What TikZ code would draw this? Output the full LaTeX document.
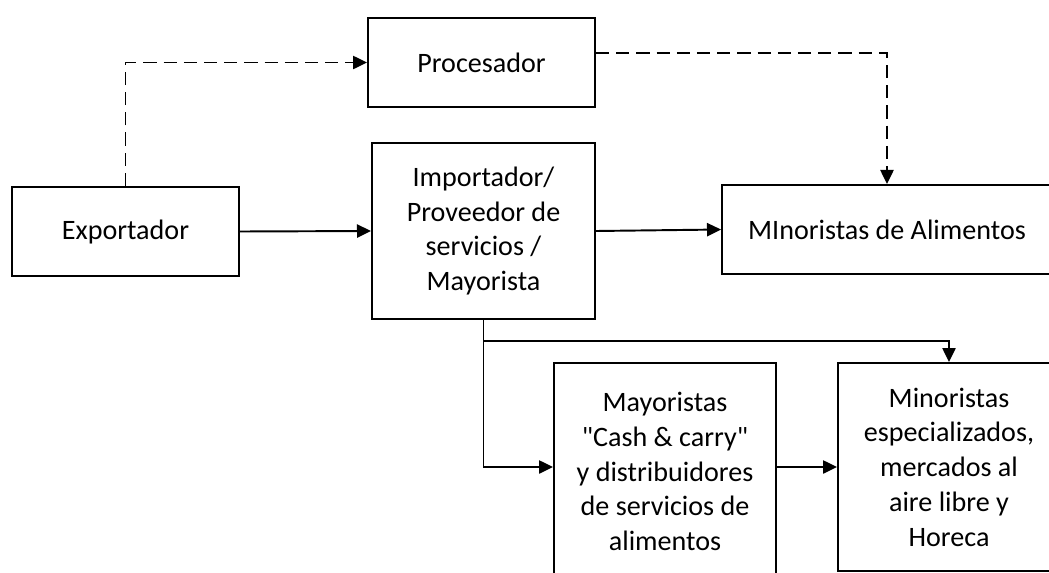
\documentclass[tikz,border=0pt]{standalone}
\usepackage{fontspec}
\setmainfont{Carlito}
\usepackage{tikz}
\usetikzlibrary{arrows.meta,positioning}

\begin{document}
\begin{tikzpicture}[x=0.02cm,y=-0.02cm,>={Triangle[length=8pt,width=7.5pt]},line width=1.1pt,
  font=\fontsize{16}{19.8}\selectfont,
  box/.style={draw,rectangle,align=center,inner sep=2pt},
  dflow/.style={->,dash pattern=on 7.5pt off 4pt}]
\useasboundingbox (0,0) rectangle (1049,572);
\clip (0,0) rectangle (1049,572);
\node[box,minimum width=4.54cm,minimum height=1.78cm] (exp) at (125.5,231.5) {Exportador};
\node[box,minimum width=4.54cm,minimum height=1.78cm] (proc) at (481.5,62.5) {Procesador};
\node[box,minimum width=4.46cm,minimum height=3.52cm] (imp) at (483.5,231) {Importador/\\Proveedor de\\servicios /\\Mayorista};
\node[box,minimum width=6.6cm,minimum height=1.78cm] (minal) at (887,229.5) {MInoristas de Alimentos};
\node[box,minimum width=4.44cm,minimum height=4.34cm] (may) at (665,471.5) {Mayoristas\\\textquotedbl Cash \& carry\textquotedbl\\y distribuidores\\de servicios de\\alimentos};
\node[box,minimum width=4.44cm,minimum height=4.16cm] (minesp) at (949,467) {Minoristas\\especializados,\\mercados al\\aire libre y\\Horeca};
\coordinate (jn) at (484,341);
\draw[dflow] (exp.north) |- (proc.west);
\draw[dflow] ([yshift=0.19cm]proc.east) -| (minal.north);
\draw[->] (exp.east) -- (imp.west);
\draw[->] (imp.east) -- (minal.west);
\draw[->] (imp.south) |- (may.west |- minesp.west);
\draw[->] (imp.south |- jn) -| (minesp.north);
\draw[->] (may.east |- minesp.west) -- (minesp.west);
\end{tikzpicture}
\end{document}
